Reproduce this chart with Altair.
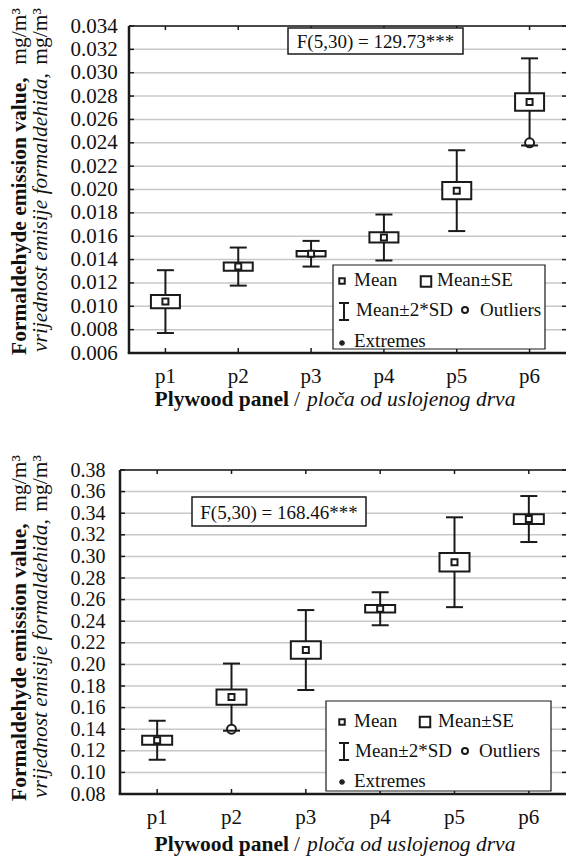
import altair as alt
import pandas as pd

FONT = "Liberation Serif"
INK = "#1a1a1a"
GRID = "#c8c8c8"

categories = ["p1", "p2", "p3", "p4", "p5", "p6"]

# ---- top panel (values in mg/m3) ----
top_mean = [0.0104, 0.0134, 0.0145, 0.0159, 0.0199, 0.0275]
top_se = [0.00056, 0.00035, 0.00024, 0.00043, 0.00074, 0.00075]
top_2sd = [0.00269, 0.00163, 0.00110, 0.00197, 0.00346, 0.00373]
top_out_cat = ["p6"]
top_out_val = [0.0240]
top_ticks = [0.006, 0.008, 0.010, 0.012, 0.014, 0.016, 0.018, 0.020,
             0.022, 0.024, 0.026, 0.028, 0.030, 0.032, 0.034]
top_f = "F(5,30) = 129.73***"

# ---- bottom panel ----
bot_mean = [0.1297, 0.1697, 0.2133, 0.2515, 0.2946, 0.3346]
bot_se = [0.0042, 0.0071, 0.0081, 0.0034, 0.0086, 0.0045]
bot_2sd = [0.0181, 0.0311, 0.0370, 0.0153, 0.0416, 0.0213]
bot_out_cat = ["p2"]
bot_out_val = [0.140]
bot_ticks = [0.08, 0.10, 0.12, 0.14, 0.16, 0.18, 0.20, 0.22, 0.24, 0.26,
             0.28, 0.30, 0.32, 0.34, 0.36, 0.38]
bot_f = "F(5,30) = 168.46***"

ytitle1_bold = "Formaldehyde emission value,"
ytitle2_ital = "vrijednost emisije formaldehida,"
ytitle_unit = "mg/m³"
xtitle_bold = "Plywood panel"
xtitle_ital = "ploča od uslojenog drva"
legend_labels = ["Mean", "Mean±SE", "Mean±2*SD", "Outliers", "Extremes"]

ONE = pd.DataFrame({"k": [0]})
ASTERISK = "M-1,0L1,0M0,-1L0,1M-0.7,-0.7L0.7,0.7M-0.7,0.7L0.7,-0.7"


def txt(s, x, y, size=19, align="left", baseline="middle", weight="normal",
        style="normal", angle=0):
    return alt.Chart(ONE).mark_text(
        text=s, font=FONT, fontSize=size, align=align, baseline=baseline,
        fontWeight=weight, fontStyle=style, angle=angle, color="#111111"
    ).encode(x=alt.value(x), y=alt.value(y))


def box(x1, x2, y1, y2, sw=1.5):
    return alt.Chart(ONE).mark_rect(fill="white", stroke=INK, strokeWidth=sw).encode(
        x=alt.value(x1), x2=alt.value(x2), y=alt.value(y1), y2=alt.value(y2))


def hline(x1, x2, y, sw=2, color=INK):
    return alt.Chart(ONE).mark_rule(color=color, strokeWidth=sw).encode(
        x=alt.value(x1), x2=alt.value(x2), y=alt.value(y))


def vline(x, y1, y2, sw=2):
    return alt.Chart(ONE).mark_rule(color=INK, strokeWidth=sw).encode(
        x=alt.value(x), y=alt.value(y1), y2=alt.value(y2))


def sym(shape, x, y, size, sw=2, fill="white"):
    return alt.Chart(ONE).mark_point(shape=shape, size=size, filled=False, fill=fill,
                                     fillOpacity=1, stroke=INK, strokeWidth=sw,
                                     opacity=1).encode(x=alt.value(x), y=alt.value(y))


def panel(mean, se, sd2, out_cat, out_val, ticks, fmt, ftext, L):
    W, H, X0 = L["W"], L["H"], L["x0"]
    df = pd.DataFrame({"cat": categories, "mean": mean, "se": se, "sd2": sd2})
    df["box_lo"] = df["mean"] - df["se"]
    df["box_hi"] = df["mean"] + df["se"]
    df["lo"] = df["mean"] - df["sd2"]
    df["hi"] = df["mean"] + df["sd2"]
    out = pd.DataFrame({"cat": out_cat, "val": out_val})
    tk = pd.DataFrame({"v": ticks})

    yscale = alt.Scale(domain=[ticks[0], ticks[-1]], nice=False, zero=False)
    yaxis = alt.Axis(values=ticks, format=fmt, grid=False, domain=False,
                     ticks=False, tickSize=0,
                     labelFont=FONT, labelFontSize=L["yfs"], labelColor="#111111",
                     labelAlign="left", labelBaseline="middle",
                     labelPadding=L["lpad"], title=None)
    xaxis = alt.Axis(domain=False, ticks=False, tickSize=0,
                     labelFont=FONT, labelFontSize=21, labelColor="#111111", labelAngle=0,
                     labelPadding=L["xlpad"], grid=False, title=None)
    xscale = alt.Scale(paddingInner=0, paddingOuter=0, range=[X0, W])

    def X():
        return alt.X("cat:N", sort=categories, scale=xscale, axis=xaxis, title=None)

    def Y(f):
        return alt.Y(f, scale=yscale, axis=yaxis, title=None)

    base = alt.Chart(df)
    layers = [
        # grid lines
        alt.Chart(tk).mark_rule(color=GRID, strokeWidth=1.5).encode(
            y=Y("v:Q"), x=alt.value(X0), x2=alt.value(W)),
        # inner ticks on y (left and right)
        alt.Chart(tk).mark_rule(color=INK, strokeWidth=1.5).encode(
            y=Y("v:Q"), x=alt.value(X0), x2=alt.value(X0 + 5)),
        alt.Chart(tk).mark_rule(color=INK, strokeWidth=1.5).encode(
            y=Y("v:Q"), x=alt.value(W - 4), x2=alt.value(W)),
        # inner ticks on x (bottom and top)
        base.mark_rule(color=INK, strokeWidth=1.5).encode(
            x=X(), y=alt.value(H), y2=alt.value(H - 5)),
        base.mark_rule(color=INK, strokeWidth=1.5).encode(
            x=X(), y=alt.value(0), y2=alt.value(4)),
        # frame
        hline(X0, W, 0, sw=1.5),
        hline(X0 - 1.25, W, H, sw=2.5),
        vline(X0, 0, H, sw=2.5),
        # box plots
        base.mark_rule(color=INK, strokeWidth=2).encode(x=X(), y=Y("lo:Q"), y2="hi:Q"),
        alt.Chart(out).mark_point(shape="circle", size=80, filled=False, fill="white",
                                  fillOpacity=1, stroke=INK, strokeWidth=2).encode(
            x=X(), y=Y("val:Q")),
        base.mark_tick(orient="horizontal", size=17, thickness=2, color=INK, opacity=1).encode(
            x=X(), y=Y("hi:Q")),
        base.mark_tick(orient="horizontal", size=17, thickness=2, color=INK, opacity=1).encode(
            x=X(), y=Y("lo:Q")),
        base.mark_bar(size=L["boxw"], fill="white", stroke=INK, strokeWidth=2).encode(
            x=X(), y=Y("box_lo:Q"), y2="box_hi:Q"),
        base.mark_square(size=36, fill="white", fillOpacity=1, stroke=INK,
                         strokeWidth=2, opacity=1).encode(x=X(), y=Y("mean:Q")),
    ]
    # F statistic box
    fb = L["fbox"]
    layers += [box(fb[0], fb[1], fb[2], fb[3]),
               txt(ftext, (fb[0] + fb[1]) / 2, (fb[2] + fb[3]) / 2 + 1, align="center")]
    # legend
    lg = L["leg"]
    layers += [
        box(lg["rect"][0], lg["rect"][1], lg["rect"][2], lg["rect"][3], sw=1.2),
        sym("square", lg["mean"][0], lg["mean"][1], 30),
        txt(legend_labels[0], lg["mean"][2], lg["mean"][3]),
        sym("square", lg["se"][0], lg["se"][1], 110),
        txt(legend_labels[1], lg["se"][2], lg["se"][3]),
        vline(lg["sd"][0], lg["sd"][1], lg["sd"][2]),
        hline(lg["sd"][0] - 5, lg["sd"][0] + 5, lg["sd"][1]),
        hline(lg["sd"][0] - 5, lg["sd"][0] + 5, lg["sd"][2]),
        txt(legend_labels[2], lg["sd"][3], lg["sd"][4]),
        sym("circle", lg["out"][0], lg["out"][1], 36),
        txt(legend_labels[3], lg["out"][2], lg["out"][3]),
        sym(ASTERISK, lg["ext"][0], lg["ext"][1], 36, sw=1.3, fill="transparent"),
        txt(legend_labels[4], lg["ext"][2], lg["ext"][3]),
    ]
    # y title (two lines, rotated)
    yt = L["yt"]
    layers += [
        txt(ytitle1_bold, yt["x1"], yt["b1"], size=21.5, align="left",
            baseline="alphabetic", weight="bold", angle=270),
        txt(ytitle_unit, yt["x1"], yt["top"], size=21.5, align="right",
            baseline="alphabetic", angle=270),
        txt(ytitle2_ital, yt["x2"], yt["b2"], size=21.5, align="left",
            baseline="alphabetic", style="italic", angle=270),
        txt(ytitle_unit, yt["x2"], yt["top"], size=21.5, align="right",
            baseline="alphabetic", angle=270),
    ]
    xt = L["xt"]
    layers += [
        txt(xtitle_bold, xt[1] - 8, xt[0], size=21.5, align="right",
            baseline="alphabetic", weight="bold"),
        txt("/", xt[1], xt[0], size=21.5, align="center", baseline="alphabetic"),
        txt(xtitle_ital, xt[1] + 10, xt[0], size=21.5, align="left",
            baseline="alphabetic", style="italic"),
    ]
    return alt.layer(*layers).properties(width=W, height=H)


# positions are relative to a common view origin (page x ~121)
top_layout = {
    "W": 446, "H": 327, "x0": 9, "lpad": 50, "xlpad": 12, "boxw": 29, "yfs": 21,
    "fbox": (168, 343, 2, 28),
    "leg": {"rect": (213, 425, 239, 323),
            "mean": (222, 255, 234, 254),
            "se": (306, 255.5, 317, 254),
            "sd": (224, 277, 294, 236, 284),
            "out": (345, 284, 360, 284),
            "ext": (222, 317, 234, 315)},
    "yt": {"x1": -94, "x2": -73, "b1": 329, "b2": 326, "top": -18},
    "xt": (380, 177),
}

bot_layout = {
    "W": 446, "H": 324, "x0": 0, "lpad": 50, "xlpad": 12, "boxw": 30, "yfs": 20,
    "fbox": (72, 246, 27, 56),
    "leg": {"rect": (206, 431, 231, 321),
            "mean": (222, 252, 234, 251),
            "se": (305, 252, 318, 251),
            "sd": (224, 273, 290, 235, 281),
            "out": (345, 281, 359, 281),
            "ext": (222, 312, 234, 311)},
    "yt": {"x1": -94, "x2": -73, "b1": 331, "b2": 328, "top": -15},
    "xt": (381, 177),
}

top = panel(top_mean, top_se, top_2sd, top_out_cat, top_out_val, top_ticks, ".3f",
            top_f, top_layout)
bottom = panel(bot_mean, bot_se, bot_2sd, bot_out_cat, bot_out_val, bot_ticks, ".2f",
               bot_f, bot_layout)

chart = alt.vconcat(top, bottom, spacing=44).properties(
    padding={"left": 0, "top": 0, "right": 0, "bottom": 0}
).configure_view(strokeWidth=0)

chart.save("out.html", embed_options={"renderer": "svg", "actions": False})
